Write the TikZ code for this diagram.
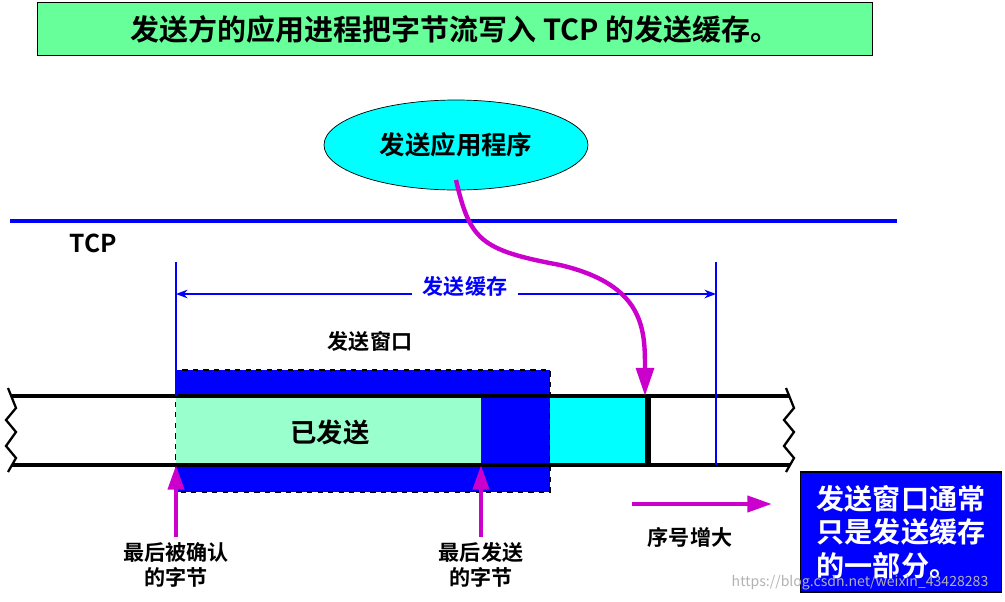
\documentclass[tikz,border=0pt]{standalone}
\usepackage{fontspec}
\setmainfont{Noto Sans CJK SC}[BoldFont={Noto Sans CJK SC Bold}]
\usetikzlibrary{shapes.geometric,arrows.meta}
\definecolor{lgreen}{HTML}{66FF99}
\definecolor{sent}{HTML}{99FFCC}
\definecolor{wblue}{HTML}{0000FF}
\definecolor{aqua}{HTML}{00FFFF}
\definecolor{mag}{HTML}{CC00CC}
\tikzset{
  lbl/.style={font=\bfseries\fontsize{12}{14}\selectfont,align=center,inner sep=1pt},
  uparrow/.style={mag,line width=2.5pt,-{Triangle[length=14pt,width=9pt]}}
}
\begin{document}
\begin{tikzpicture}[x=0.02cm,y=-0.02cm]
    \useasboundingbox (0,0) rectangle (1005,602);
    % tiêu đề
    \node[draw,fill=lgreen,minimum width=835*0.02cm,minimum height=53*0.02cm,font=\bfseries\fontsize{16.5}{19}\selectfont] (title) at (455,29) {发送方的应用进程把字节流写入 TCP 的发送缓存。};
    \node[ellipse,draw,fill=aqua,minimum width=264*0.02cm,minimum height=90*0.02cm,font=\bfseries\fontsize{14.5}{17}\selectfont] (app) at (456,145) {发送应用程序};
    \draw[wblue,line width=2.5pt] (10,221)--(897,221);
    \node[lbl,font=\bfseries\fontsize{14}{16}\selectfont] (tcp) at (93,243) {TCP};
    % cửa sổ và bộ đệm
    \fill[wblue] (176,370) rectangle (550,492);
    \draw[dashed,thick] (176,370) rectangle (550,492);
    \fill[sent] (176,396) rectangle (481,465);
    \fill[aqua] (550,396) rectangle (647,465);
    \draw[line width=2pt] (12,396)--(790,396) (12,465)--(790,465);
    \draw[line width=3pt] (648,396)--(648,465);
    \foreach \x in {12,790}
        \draw[line width=1.3pt] (\x-4,388)--(\x+4,408)--(\x-6,420)--(\x+4,432)--(\x-6,446)--(\x+4,458)--(\x-4,472);
    \node[lbl,font=\bfseries\fontsize{15}{17}\selectfont] (sentlbl) at (330,432) {已发送};
    \coordinate (bl) at (176,262); \coordinate (br) at (716,262);
    \draw[wblue,line width=1pt] (bl)--(176,396) (br)--(716,465);
    \draw[wblue,line width=0.8pt,<->,>=Stealth] (176,294)--(716,294);
    \node[lbl,wblue,fill=white,inner xsep=6pt] (buf) at (465,286) {发送缓存};
    \node[lbl] (win) at (370,341) {发送窗口};
    % mũi tên
    \coordinate (wr) at (645,396);
    \draw[mag,line width=2.5pt,-{Triangle[length=16pt,width=10pt]}] (456,180) .. controls (470,240) and (480,250) .. (560,265) .. controls (645,285) and (645,330) .. (wr);
    \path foreach \x/\t/\n in {176/最后被确认\\的字节/acked,481/最后发送\\的字节/last} {
        (\x,565) node[lbl] (\n) {\t}
    };
    \foreach \n/\x in {acked/176,last/481} \draw[uparrow] (\n.north)++(0,-4)--(\x,465);
    \coordinate (s) at (632,504); \coordinate (e) at (772,504);
    \draw[uparrow] (s)--(e);
    \node[lbl] (seq) at (690,537) {序号增大};
    \node[draw,line width=1pt,fill=wblue,text=white,minimum width=201*0.02cm,minimum height=120*0.02cm,align=left,inner sep=2pt,font=\bfseries\fontsize{16}{19}\selectfont] (note) at (901,532) {发送窗口通常\\只是发送缓存\\的一部分。};
    \node[gray!60,font=\fontsize{8}{9}\selectfont] (wm) at (860,583) {https://blog.csdn.net/weixin\_43428283};
\end{tikzpicture}
\end{document}
